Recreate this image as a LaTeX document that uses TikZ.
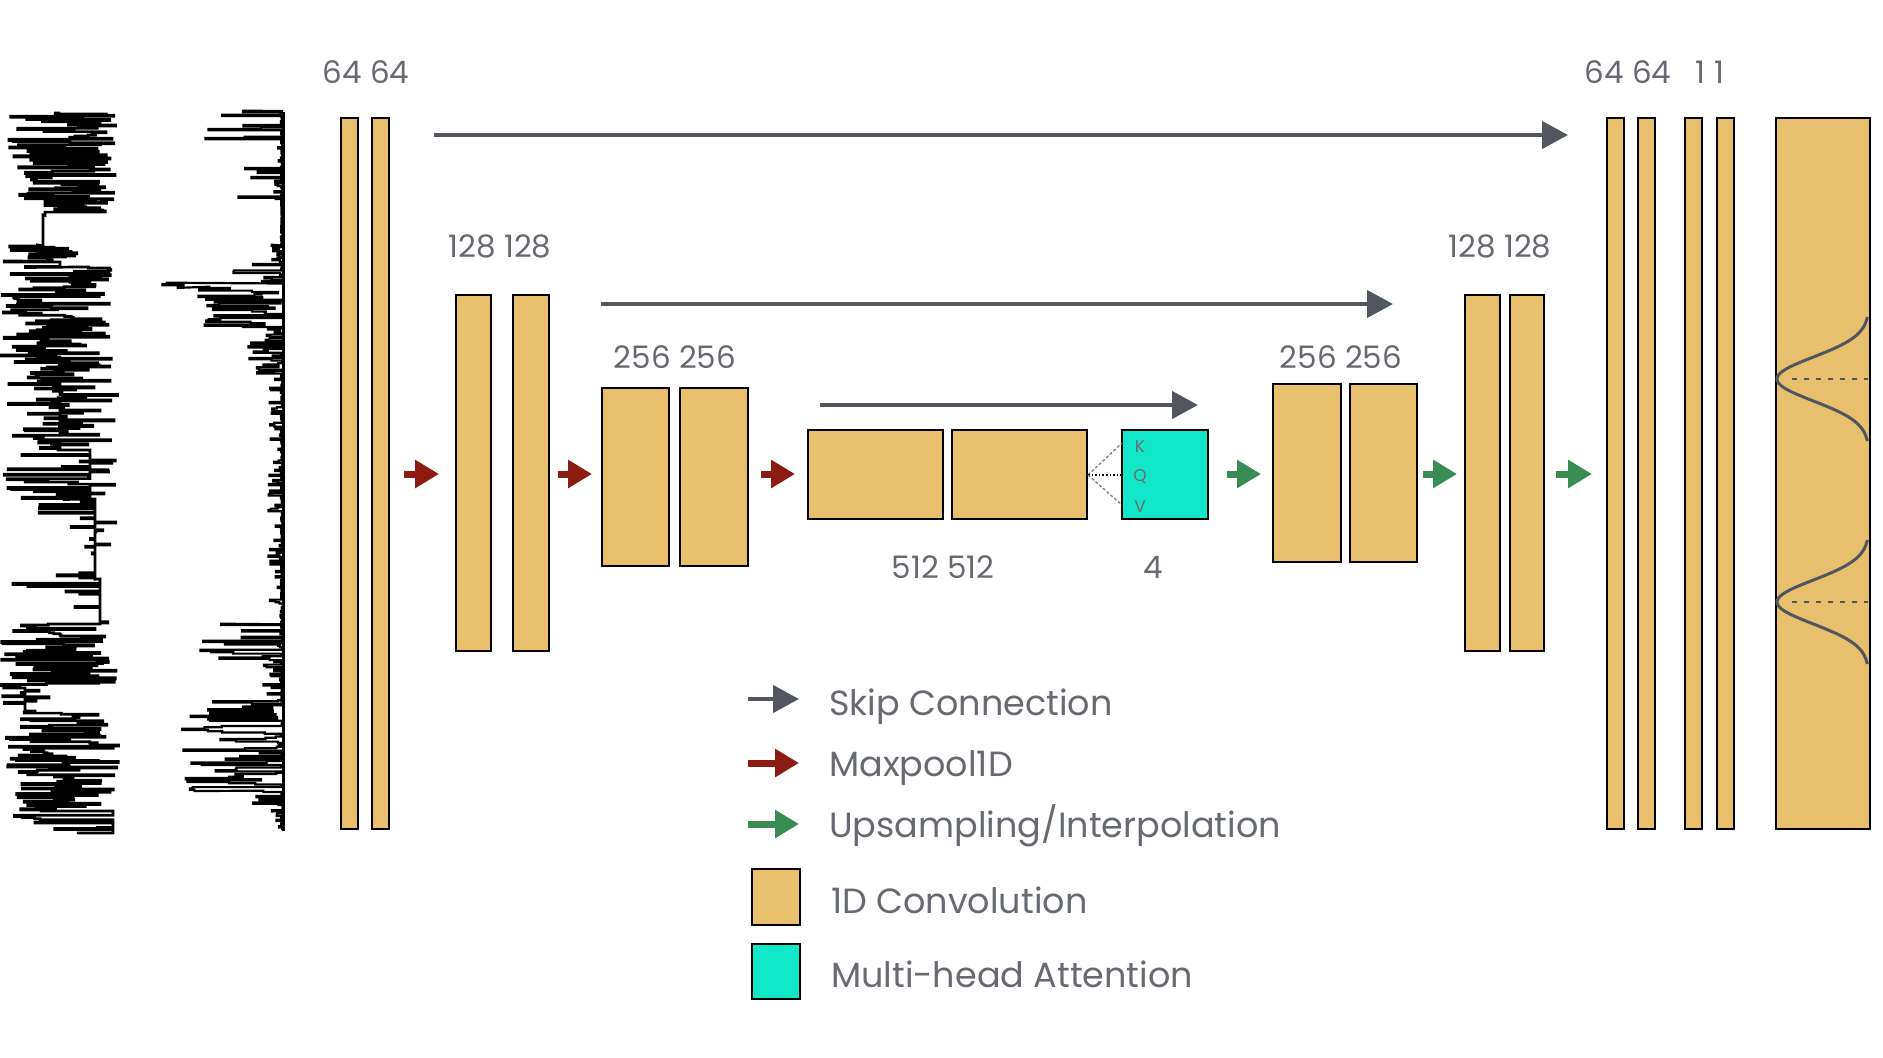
\documentclass[tikz,border=0pt]{standalone}
\usepackage{fontspec}
\setmainfont{Poppins}
\usetikzlibrary{arrows.meta}
\definecolor{convc}{HTML}{E7BF6D}
\definecolor{attc}{HTML}{12E6C9}
\definecolor{skipc}{HTML}{52575E}
\definecolor{poolc}{HTML}{8C1C12}
\definecolor{upc}{HTML}{3A8C55}
\definecolor{txtc}{HTML}{676B71}
\tikzset{
  conv/.style={draw=black, line width=2.2pt, fill=convc, inner sep=0pt, outer sep=0pt},
  attbox/.style={draw=black, line width=2.2pt, fill=attc, inner sep=0pt, outer sep=0pt},
  skiparrow/.style={draw=skipc, line width=4.5pt, -{Triangle[length=26pt,width=27pt]}},
  poolarrow/.style={draw=poolc, line width=7pt, -{Triangle[length=24pt,width=27pt]}},
  uparrow/.style={draw=upc, line width=7pt, -{Triangle[length=24pt,width=27pt]}},
  num/.style={text=txtc, font=\fontsize{31}{34}\selectfont, inner sep=0pt},
  legtext/.style={text=txtc, font=\fontsize{35}{40}\selectfont, anchor=base west, inner sep=0pt},
  kqv/.style={text=txtc, font=\fontsize{17}{18}\selectfont, inner sep=0pt},
  sig/.style={draw=black, line width=2.7pt, line join=miter},
  gcurve/.style={draw=skipc, line width=3pt},
  gdash/.style={draw=skipc, line width=2.5pt, dash pattern=on 5pt off 7pt},
}
\newcommand\mybox[6]{\node[#2, minimum width={#5-#3}, minimum height={#6-#4}] (#1) at ({(#3+#5)/2},{(#4+#6)/2}) {};}
\begin{document}
\begin{tikzpicture}[x=1pt,y=-1pt]
\useasboundingbox[fill=white] (0,0) rectangle (1883,1058);

% ---------- input signals ----------
\pgfmathsetseed{12}
\gdef\sigpath{}
\foreach \ya/\yb/\pp/\bx/\xa/\xb in {
  114/200/1/60/8/117, 200/216/0.5/45/45/112, 216/246/0/43/43/43,
  246/262/0.8/43/0/78, 262/268/0.5/60/0/60, 268/378/1/60/0/112,
  378/450/0.8/60/0/118, 450/500/0.6/90/0/116, 500/580/0.2/95/35/116,
  580/625/0.1/100/3/108, 625/688/1/80/0/118, 688/712/0.5/25/0/50,
  712/812/1/60/4/120, 812/835/0.3/113/0/116}{
  \pgfmathsetmacro\yc{\ya+1.1}
  \foreach \yy in {\ya,\yc,...,\yb}{
    \pgfmathsetmacro\rr{rnd}
    \pgfmathsetmacro\yp{\yy-1.1}
    \pgfmathparse{\rr<\pp ? \xa+(\xb-\xa)*rnd : \bx}
    \xdef\sigpath{\sigpath -- (\pgfmathresult,\yp) -- (\pgfmathresult,\yy)}
  }
}
\draw[sig] (60,113) \sigpath;

\gdef\sigpath{}
\foreach \ya/\yb/\pp/\amp/\pw in {
  112/200/0.4/85/2.2, 200/246/0/0/1, 246/264/0.5/12/1, 264/284/0.5/70/1.8,
  284/288/1/133/0.3, 288/332/0.9/95/1.1, 332/376/0.5/35/1.4,
  376/625/0.3/15/1.8, 625/662/0.7/95/2.3, 662/700/0.4/20/1.6,
  700/792/0.85/105/1.7, 792/812/0.5/40/1.6, 812/831/0.4/8/1}{
  \pgfmathsetmacro\yc{\ya+1.3}
  \foreach \yy in {\ya,\yc,...,\yb}{
    \pgfmathsetmacro\rr{rnd}
    \pgfmathsetmacro\yp{\yy-1.3}
    \pgfmathparse{\rr<\pp ? 283-\amp*rnd^\pw : 283-2*rnd}
    \xdef\sigpath{\sigpath -- (\pgfmathresult,\yp) -- (\pgfmathresult,\yy)}
  }
}
\draw[sig, line width=2.2pt] (283,111) \sigpath;
\draw[line width=3pt] (283,112) -- (283,831);

% ---------- encoder ----------
\mybox{e64a}{conv}{341}{118}{358}{829}
\mybox{e64b}{conv}{372}{118}{389}{829}
\mybox{e128a}{conv}{456}{295}{491}{651}
\mybox{e128b}{conv}{513}{295}{549}{651}
\mybox{e256a}{conv}{602}{388}{669}{566}
\mybox{e256b}{conv}{680}{388}{748}{566}
\mybox{e512a}{conv}{808}{430}{943}{519}
\mybox{e512b}{conv}{952}{430}{1087}{519}
\mybox{att}{attbox}{1122}{430}{1208}{519}

% ---------- decoder ----------
\mybox{d256a}{conv}{1273}{384}{1341}{562}
\mybox{d256b}{conv}{1350}{384}{1417}{562}
\mybox{d128a}{conv}{1465}{295}{1500}{651}
\mybox{d128b}{conv}{1510}{295}{1544}{651}
\mybox{d64a}{conv}{1607}{118}{1624}{829}
\mybox{d64b}{conv}{1638}{118}{1655}{829}
\mybox{d1a}{conv}{1685}{118}{1702}{829}
\mybox{d1b}{conv}{1717}{118}{1734}{829}
\mybox{out}{conv}{1776}{118}{1870}{829}

% gaussian peaks in output
\draw[gcurve] plot[domain=-62:62, samples=80] ({1777+92*(1-exp(0-(\x/31)*(\x/31)))},{379+\x});
\draw[gcurve] plot[domain=-62:62, samples=80] ({1777+92*(1-exp(0-(\x/31)*(\x/31)))},{602+\x});
\coordinate (p1a) at (1792,379); \coordinate (p1b) at (1868,379);
\coordinate (p2a) at (1792,602); \coordinate (p2b) at (1868,602);
\draw[gdash] (p1a) -- (p1b);
\draw[gdash] (p2a) -- (p2b);

% ---------- attention inputs ----------
\coordinate (kin) at (1122,443);
\coordinate (qin) at (1122,475);
\coordinate (vin) at (1122,505);
\coordinate (src) at (1088,475);
\draw[gray, line width=1.3pt, dash pattern=on 3pt off 2pt] (src) -- (kin);
\draw[black, line width=1.6pt, dotted] (src) -- (qin);
\draw[gray, line width=1.3pt, dash pattern=on 3pt off 2pt] (src) -- (vin);
\node[kqv] (kl) at (1140,447) {K};
\node[kqv] (ql) at (1140,477) {Q};
\node[kqv] (vl) at (1140,507) {V};

% ---------- pooling / upsampling arrows ----------
\draw[poolarrow, shorten <=15pt, shorten >=17pt] (e64b.east |- 0,474) -- (e128a.west |- 0,474);
\draw[poolarrow, shorten <=9pt, shorten >=10pt] (e128b.east |- 0,474) -- (e256a.west |- 0,474);
\draw[poolarrow, shorten <=13pt, shorten >=13pt] (e256b.east |- 0,474) -- (e512a.west |- 0,474);
\draw[uparrow, shorten <=19pt, shorten >=12pt] (att.east |- 0,474) -- (d256a.west |- 0,474);
\draw[uparrow, shorten <=6pt, shorten >=8pt] (d256b.east |- 0,474) -- (d128a.west |- 0,474);
\draw[uparrow, shorten <=12pt, shorten >=15pt] (d128b.east |- 0,474) -- (d64a.west |- 0,474);

% ---------- skip connections ----------
\coordinate (s1a) at (434,135); \coordinate (s1b) at (1568,135);
\coordinate (s2a) at (601,304); \coordinate (s2b) at (1393,304);
\coordinate (s3a) at (820,405); \coordinate (s3b) at (1198,405);
\draw[skiparrow] (s1a) -- (s1b);
\draw[skiparrow] (s2a) -- (s2b);
\draw[skiparrow] (s3a) -- (s3b);

% ---------- channel labels ----------
\node[num] (n64) at (366,72) {64 64};
\node[num] (n128) at (500,246) {128 128};
\node[num] (n256) at (675,357) {256 256};
\node[num] (n512) at (943,567) {512 512};
\node[num] (n4) at (1153,567) {4};
\node[num] (m256) at (1341,357) {256 256};
\node[num] (m128) at (1500,246) {128 128};
\node[num] (m64) at (1628,72) {64 64};
\node[num] (m1) at (1710,72) {1 1};

% ---------- legend ----------
\coordinate (la1) at (748,699); \coordinate (lb1) at (799,699);
\coordinate (la2) at (748,763); \coordinate (lb2) at (799,763);
\coordinate (la3) at (748,824); \coordinate (lb3) at (799,824);
\draw[skiparrow] (la1) -- (lb1);
\draw[poolarrow] (la2) -- (lb2);
\draw[uparrow] (la3) -- (lb3);
\mybox{lconv}{conv}{752}{869}{800}{925}
\mybox{latt}{attbox}{752}{944}{800}{999}
\node[legtext] (t1) at (829,715) {Skip Connection};
\node[legtext] (t2) at (829,776) {Maxpool1D};
\node[legtext] (t3) at (829,837) {Upsampling/Interpolation};
\node[legtext] (t4) at (831,913) {1D Convolution};
\node[legtext] (t5) at (831,987) {Multi-head Attention};
\end{tikzpicture}
\end{document}
